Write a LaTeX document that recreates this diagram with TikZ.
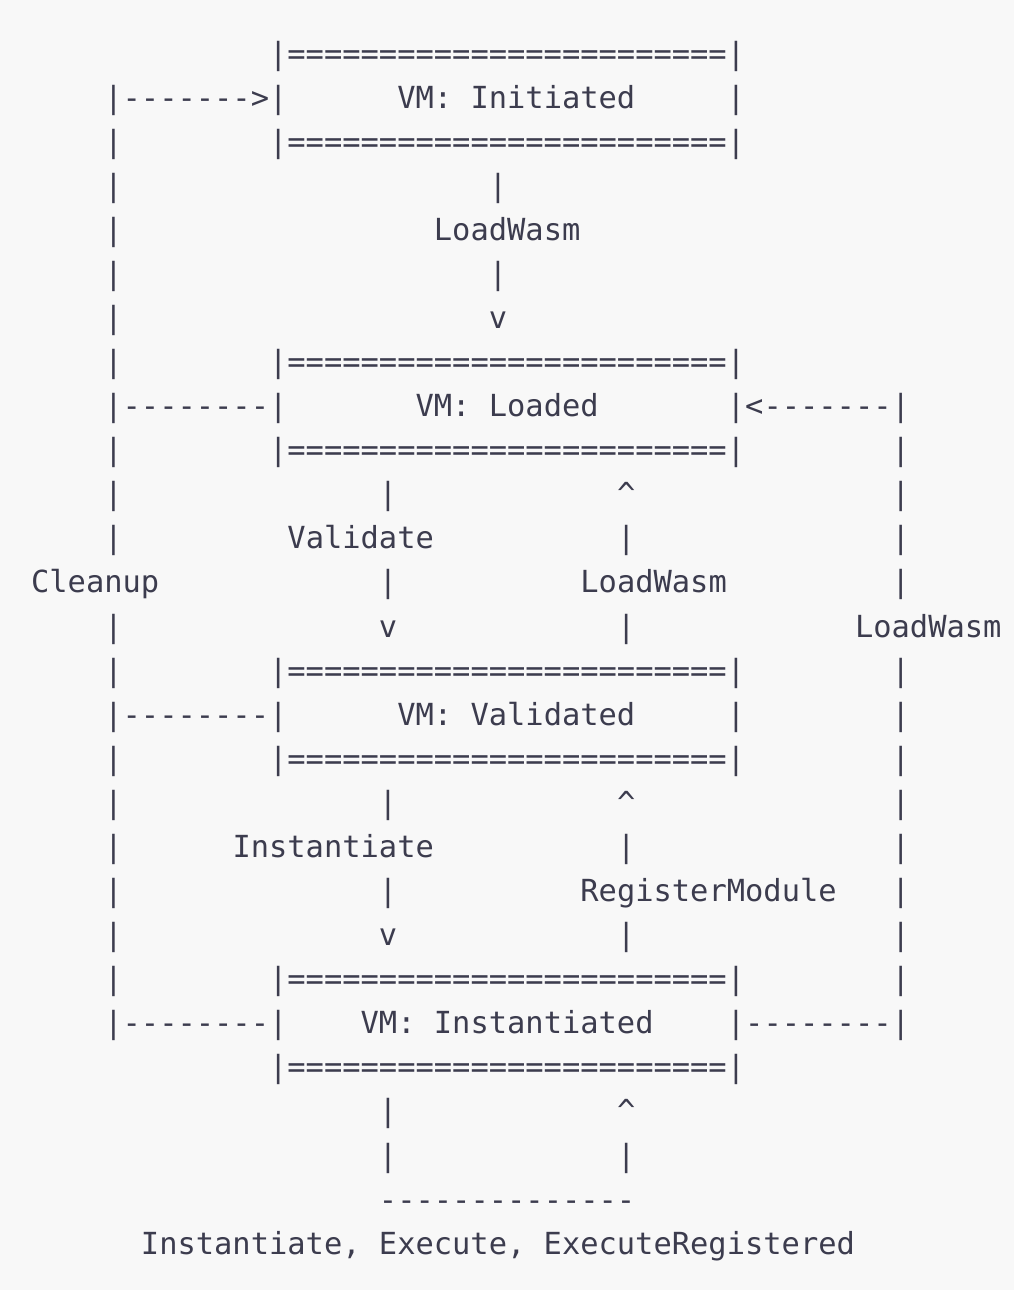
\documentclass[tikz,border=0pt]{standalone}
\usepackage{fontspec}
\setmonofont{DejaVu Sans Mono}
\definecolor{bgc}{HTML}{F8F8F8}
\definecolor{ink}{HTML}{3C3C4E}
\newcommand\tx[4]{\node[txt] (#1) at ({31.1+#2*18.31},{64+44.08*(#3-1)}) {#4};}
\newcommand\eqline{|========================|}
\begin{document}
\begin{tikzpicture}[x=1pt,y=-1pt,
  txt/.style={anchor=base west,inner sep=0pt,outer sep=0pt,text=ink,
    font=\ttfamily\fontsize{30.41}{36}\selectfont}]
\fill[bgc] (0,0) rectangle (1014,1290);
\useasboundingbox (0,0) rectangle (1014,1290);
% line 1-3: VM Initiated
\tx{b1t}{13}{1}{\eqline}
\tx{a1}{4}{2}{|------->|}
\tx{s1}{20}{2}{VM: Initiated}
\tx{b1r}{38}{2}{|}
\tx{l3}{4}{3}{|}
\tx{b1b}{13}{3}{\eqline}
% 4-7
\tx{l4}{4}{4}{|}
\tx{e1a}{25}{4}{|}
\tx{l5}{4}{5}{|}
\tx{lw1}{22}{5}{LoadWasm}
\tx{l6}{4}{6}{|}
\tx{e1b}{25}{6}{|}
\tx{l7}{4}{7}{|}
\tx{e1c}{25}{7}{v}
% 8-10: VM Loaded
\tx{l8}{4}{8}{|}
\tx{b2t}{13}{8}{\eqline}
\tx{a2}{4}{9}{|--------|}
\tx{s2}{21}{9}{VM: Loaded}
\tx{a3}{38}{9}{|<-------|}
\tx{l10}{4}{10}{|}
\tx{b2b}{13}{10}{\eqline}
\tx{r10}{47}{10}{|}
% 11-14
\tx{l11}{4}{11}{|}
\tx{v11}{19}{11}{|}
\tx{u11}{32}{11}{\textasciicircum}
\tx{r11}{47}{11}{|}
\tx{l12}{4}{12}{|}
\tx{val}{14}{12}{Validate}
\tx{u12}{32}{12}{|}
\tx{r12}{47}{12}{|}
\tx{cln}{0}{13}{Cleanup}
\tx{v13}{19}{13}{|}
\tx{lw2}{30}{13}{LoadWasm}
\tx{r13}{47}{13}{|}
\tx{l14}{4}{14}{|}
\tx{v14}{19}{14}{v}
\tx{u14}{32}{14}{|}
\tx{lw3}{45}{14}{LoadWasm}
% 15-17: VM Validated
\tx{l15}{4}{15}{|}
\tx{b3t}{13}{15}{\eqline}
\tx{r15}{47}{15}{|}
\tx{a4}{4}{16}{|--------|}
\tx{s3}{20}{16}{VM: Validated}
\tx{b3r}{38}{16}{|}
\tx{r16}{47}{16}{|}
\tx{l17}{4}{17}{|}
\tx{b3b}{13}{17}{\eqline}
\tx{r17}{47}{17}{|}
% 18-21
\tx{l18}{4}{18}{|}
\tx{v18}{19}{18}{|}
\tx{u18}{32}{18}{\textasciicircum}
\tx{r18}{47}{18}{|}
\tx{l19}{4}{19}{|}
\tx{ins}{11}{19}{Instantiate}
\tx{u19}{32}{19}{|}
\tx{r19}{47}{19}{|}
\tx{l20}{4}{20}{|}
\tx{v20}{19}{20}{|}
\tx{reg}{30}{20}{RegisterModule}
\tx{r20}{47}{20}{|}
\tx{l21}{4}{21}{|}
\tx{v21}{19}{21}{v}
\tx{u21}{32}{21}{|}
\tx{r21}{47}{21}{|}
% 22-24: VM Instantiated
\tx{l22}{4}{22}{|}
\tx{b4t}{13}{22}{\eqline}
\tx{r22}{47}{22}{|}
\tx{a5}{4}{23}{|--------|}
\tx{s4}{18}{23}{VM: Instantiated}
\tx{a6}{38}{23}{|--------|}
\tx{b4b}{13}{24}{\eqline}
% 25-28
\tx{v25}{19}{25}{|}
\tx{u25}{32}{25}{\textasciicircum}
\tx{v26}{19}{26}{|}
\tx{u26}{32}{26}{|}
\tx{loop}{19}{27}{--------------}
\tx{ops}{6}{28}{Instantiate, Execute, ExecuteRegistered}
\end{tikzpicture}
\end{document}
